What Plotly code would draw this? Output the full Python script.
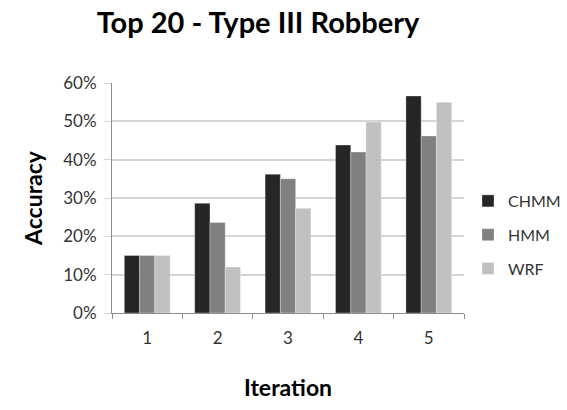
import plotly.graph_objects as go

# Accuracy per iteration for each model
iterations = ["1", "2", "3", "4", "5"]
chmm = [0.15, 0.286, 0.362, 0.438, 0.566]
hmm = [0.15, 0.236, 0.35, 0.42, 0.462]
wrf = [0.15, 0.12, 0.273, 0.498, 0.55]

series = [("CHMM", chmm, "#262626"), ("HMM", hmm, "#808080"), ("WRF", wrf, "#c0c0c0")]

FONT = "Lato, 'Open Sans', sans-serif"

fig = go.Figure()
for name, vals, color in series:
    fig.add_trace(go.Bar(
        x=iterations, y=vals, name=name, legendgroup=name,
        marker=dict(color=color, line=dict(width=0.6, color="rgba(255,255,255,0.5)")),
    ))

fig.update_layout(
    width=567, height=410,
    margin=dict(l=112, r=103, t=83, b=97, autoexpand=False),
    paper_bgcolor="white", plot_bgcolor="white",
    barmode="group", bargap=0.35, bargroupgap=0,
    font=dict(family=FONT, color="#333333", size=16),
    title=dict(text="<b>Top 20 - Type III Robbery</b>", x=258 / 567, xref="container",
               xanchor="center", y=1 - 23 / 410, yref="container", yanchor="middle",
               font=dict(size=29, color="black", family=FONT)),
    legend=dict(x=468 / 567, xref="container", y=1 - 235 / 410, yref="container",
                yanchor="middle", xanchor="left",
                font=dict(size=16, color="#333333"), itemwidth=30,
                tracegroupgap=10, traceorder="grouped"),
    showlegend=True,
)

fig.update_yaxes(
    range=[0, 0.6], dtick=0.1, tickformat=".0%",
    showgrid=True, gridcolor="#d4d4d4", gridwidth=1.5,
    showline=True, linecolor="#8c8c8c", linewidth=1,
    ticks="outside", ticklen=7, tickcolor="#d4d4d4",
    ticklabelstandoff=4,
    zeroline=False,
    tickfont=dict(size=17, color="#333333"),
    title=dict(text="<b>Accuracy</b>", font=dict(size=23, color="black"), standoff=14),
)
fig.update_xaxes(
    showline=True, linecolor="#8c8c8c", linewidth=1,
    ticks="outside", tickson="boundaries", ticklen=5, tickcolor="#8c8c8c",
    ticklabelstandoff=10,
    tickfont=dict(size=17, color="#333333"),
    title=dict(text="<b>Iteration</b>", font=dict(size=23, color="black"), standoff=32),
)

fig.write_html("out.html")
